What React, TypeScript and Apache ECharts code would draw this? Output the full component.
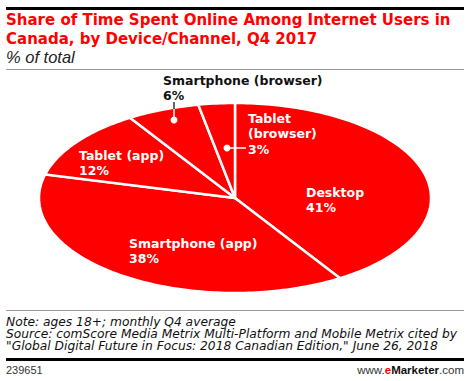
import React, { useEffect, useRef } from "react";
import * as echarts from "echarts";

const categories = ["Desktop", "Smartphone (app)", "Tablet (app)", "Smartphone (browser)", "Tablet (browser)"];
const values = [41, 38, 12, 6, 3];
const labelLines = [["Desktop"], ["Smartphone (app)"], ["Tablet (app)"], ["Smartphone (browser)"], ["Tablet", "(browser)"]];

const titleLines = ["Share of Time Spent Online Among Internet Users in", "Canada, by Device/Channel, Q4 2017"];
const subtitle = "% of total";
const noteLines = [
  "Note: ages 18+; monthly Q4 average",
  "Source: comScore Media Metrix Multi-Platform and Mobile Metrix cited by",
  "\"Global Digital Future in Focus: 2018 Canadian Edition,\" June 26, 2018",
];
const chartId = "239651";

const RED = "#ff0000";
const CX = 235, CY = 198, RX = 196, RY = 95;
// label anchor positions [x, yOfFirstLine, color]
const labelPos: [number, number, string][] = [
  [306, 192, "#fff"],
  [129, 243, "#fff"],
  [79, 155, "#fff"],
  [163, 80, "#111"],
  [248, 118, "#fff"],
];
const LH = 15.5;
const LABEL_FONT = "bold 12.5px 'DejaVu Sans'";

export default function App() {
  const ref = useRef<HTMLDivElement>(null);
  useEffect(() => {
    document.body.style.margin = "0";
    const chart = echarts.init(ref.current!, null, { renderer: "svg" });
    const total = values.reduce((a, b) => a + b, 0);
    const starts: number[] = [];
    values.reduce((acc, v, i) => { starts[i] = acc; return acc + v; }, 0);

    const renderItem = (params: any) => {
      const i = params.dataIndex;
      const a0 = (starts[i] / total) * Math.PI * 2;
      const a1 = ((starts[i] + values[i]) / total) * Math.PI * 2;
      const pts: number[][] = [[CX, CY]];
      const n = Math.max(8, Math.ceil((a1 - a0) / 0.02));
      for (let k = 0; k <= n; k++) {
        const a = a0 + ((a1 - a0) * k) / n;
        pts.push([CX + RX * Math.sin(a), CY - RY * Math.cos(a)]);
      }
      const [lx, ly, col] = labelPos[i];
      const lines = [...labelLines[i], values[i] + "%"];
      return {
        type: "group",
        children: [
          { type: "polygon", shape: { points: pts }, style: { fill: RED, stroke: "#fff", lineWidth: 2.5, lineJoin: "miter" } },
          {
            type: "text",
            z2: 10,
            style: {
              text: lines.join("\n"), x: lx, y: ly - LH / 2, font: LABEL_FONT, fill: col,
              lineHeight: LH, align: "left", verticalAlign: "top",
            },
          },
        ],
      };
    };

    const graphics: any[] = [
      { type: "rect", shape: { x: 6, y: 7, width: 458, height: 3 }, style: { fill: "#000" } },
      { type: "rect", shape: { x: 6, y: 69, width: 458, height: 1 }, style: { fill: "#999" } },
      { type: "rect", shape: { x: 6, y: 310, width: 458, height: 1 }, style: { fill: "#999" } },
      { type: "rect", shape: { x: 6, y: 358, width: 458, height: 3 }, style: { fill: "#000" } },
      {
        type: "text",
        style: {
          text: titleLines.join("\n"), x: 6, y: 20 - 9.25, font: "bold 15px 'DejaVu Sans'", fill: RED,
          lineHeight: 18.5, align: "left", verticalAlign: "top",
        },
      },
      { type: "text", style: { text: subtitle, x: 6, y: 57, font: "italic 16.5px 'Liberation Sans'", fill: "#222", align: "left", verticalAlign: "middle" } },
      {
        type: "text",
        style: {
          text: noteLines.join("\n"), x: 6, y: 315.3, font: "oblique 12.25px 'DejaVu Sans'", fill: "#111",
          lineHeight: 12.4, align: "left", verticalAlign: "top",
        },
      },
      { type: "text", style: { text: chartId, x: 6, y: 370, font: "11px 'Liberation Sans'", fill: "#333", align: "left", verticalAlign: "middle" } },
      {
        type: "text",
        style: {
          text: "{n|www.}{e|e}{b|Marketer}{n|.com}",
          x: 464, y: 370, align: "right", verticalAlign: "middle",
          rich: {
            n: { font: "11.5px 'Liberation Sans'", fill: "#333" },
            e: { font: "bold 11.5px 'Liberation Sans'", fill: RED },
            b: { font: "bold 11.5px 'Liberation Sans'", fill: "#111" },
          },
        },
      },
      // leader for Smartphone (browser)
      { type: "line", z: 20, shape: { x1: 174, y1: 102, x2: 174, y2: 109 }, style: { stroke: "#333", lineWidth: 1.5 } },
      { type: "line", z: 20, shape: { x1: 174, y1: 109, x2: 174, y2: 120 }, style: { stroke: "#fff", lineWidth: 1.5 } },
      { type: "circle", z: 20, shape: { cx: 174, cy: 120, r: 3.5 }, style: { fill: "#fff" } },
      // leader for Tablet (browser)
      { type: "line", z: 20, shape: { x1: 227, y1: 148, x2: 246, y2: 148 }, style: { stroke: "#fff", lineWidth: 1.5 } },
      { type: "circle", z: 20, shape: { cx: 227, cy: 148, r: 3.5 }, style: { fill: "#fff" } },
    ];

    chart.setOption({
      animation: false,
      series: [
        {
          type: "custom",
          coordinateSystem: "none",
          data: values.map((v, i) => ({ name: categories[i], value: v })),
          renderItem,
          z: 1,
        },
      ],
      graphic: graphics,
    });
    return () => chart.dispose();
  }, []);
  return <div ref={ref} style={{ width: 470, height: 381, position: "absolute", left: 0, top: 0, background: "#fff" }} />;
}
